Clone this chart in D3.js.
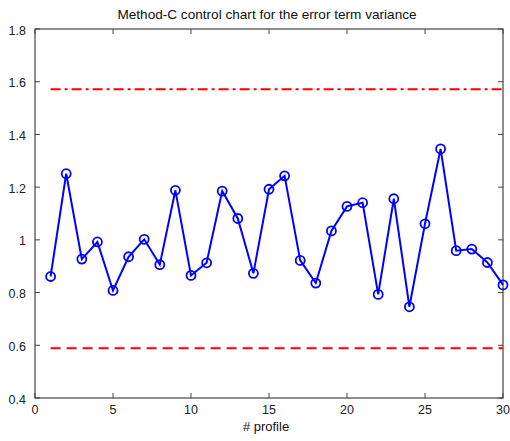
<!DOCTYPE html>
<html>
<head>
<meta charset="utf-8">
<script src="https://cdn.jsdelivr.net/npm/d3@7"></script>
<style>
  body { margin: 0; background: #fff; }
  svg { display: block; font-family: "Liberation Sans", Arial, sans-serif; }
</style>
</head>
<body>
<svg id="chart" width="510" height="441"></svg>
<script>
// Sample variance estimates per profile
const profiles = d3.range(1, 31);
const variance = [0.861, 1.251, 0.927, 0.992, 0.808, 0.936, 1.002, 0.906, 1.188, 0.865,
                  0.913, 1.185, 1.081, 0.873, 1.192, 1.243, 0.922, 0.836, 1.034, 1.127,
                  1.141, 0.793, 1.156, 0.746, 1.061, 1.345, 0.959, 0.965, 0.914, 0.829];
// Control limits
const upperLimit = 1.571;
const lowerLimit = 0.589;
const limitRange = [1, 30];
// Axis ticks
const xTicks = [0, 5, 10, 15, 20, 25, 30];
const yTicks = [0.4, 0.6, 0.8, 1.0, 1.2, 1.4, 1.6, 1.8];
const yTickLabels = ["0.4", "0.6", "0.8", "1", "1.2", "1.4", "1.6", "1.8"];

const svg = d3.select("#chart");
const m = { left: 35, right: 503, top: 29, bottom: 398 };

const x = d3.scaleLinear().domain([0, 30]).range([m.left, m.right]);
const y = d3.scaleLinear().domain([0.4, 1.8]).range([m.bottom, m.top]);

const axisColor = "#444";
const tickLen = 5;

// Frame
svg.append("rect")
  .attr("x", m.left).attr("y", m.top)
  .attr("width", m.right - m.left).attr("height", m.bottom - m.top)
  .attr("fill", "none").attr("stroke", axisColor).attr("stroke-width", 1.2);

// Inward ticks on all four sides
const tk = svg.append("g").attr("stroke", axisColor).attr("stroke-width", 1);
xTicks.forEach(t => {
  tk.append("line").attr("x1", x(t)).attr("x2", x(t)).attr("y1", m.bottom).attr("y2", m.bottom - tickLen);
  tk.append("line").attr("x1", x(t)).attr("x2", x(t)).attr("y1", m.top).attr("y2", m.top + tickLen);
});
yTicks.forEach(t => {
  tk.append("line").attr("y1", y(t)).attr("y2", y(t)).attr("x1", m.left).attr("x2", m.left + tickLen);
  tk.append("line").attr("y1", y(t)).attr("y2", y(t)).attr("x1", m.right).attr("x2", m.right - tickLen);
});

// Tick labels
svg.append("g").selectAll("text").data(xTicks).join("text")
  .attr("x", d => x(d)).attr("y", m.bottom + 16)
  .attr("text-anchor", "middle").attr("font-size", 12.5).attr("fill", "#222")
  .text(d => d);
svg.append("g").selectAll("text").data(yTicks).join("text")
  .attr("x", m.left - 9).attr("y", d => y(d) + 5.5)
  .attr("text-anchor", "end").attr("font-size", 12.5).attr("fill", "#222")
  .text((d, i) => yTickLabels[i]);

// Title and axis label
svg.append("text").attr("x", (m.left + m.right) / 2 - 2).attr("y", 19)
  .attr("text-anchor", "middle").attr("font-size", 13.6).attr("fill", "#111")
  .text("Method-C control chart for the error term variance");
svg.append("text").attr("x", (m.left + m.right) / 2 - 3).attr("y", 431)
  .attr("text-anchor", "middle").attr("font-size", 13).attr("fill", "#111")
  .text("# profile");

// Control limits
svg.append("line")
  .attr("x1", x(limitRange[0])).attr("x2", x(limitRange[1]))
  .attr("y1", y(upperLimit)).attr("y2", y(upperLimit))
  .attr("stroke", "#ff0000").attr("stroke-width", 2)
  .attr("stroke-dasharray", "10,4,3,4");
svg.append("line")
  .attr("x1", x(limitRange[0])).attr("x2", x(limitRange[1]))
  .attr("y1", y(lowerLimit)).attr("y2", y(lowerLimit))
  .attr("stroke", "#ff0000").attr("stroke-width", 2)
  .attr("stroke-dasharray", "10,6");

// Series line
const data = profiles.map((p, i) => ({ p, v: variance[i] }));
svg.append("path").datum(data)
  .attr("fill", "none").attr("stroke", "#0000ff").attr("stroke-width", 2)
  .attr("d", d3.line().x(d => x(d.p)).y(d => y(d.v)));

// Circle markers
svg.append("g").selectAll("circle").data(data).join("circle")
  .attr("cx", d => x(d.p)).attr("cy", d => y(d.v)).attr("r", 4.5)
  .attr("fill", "none").attr("stroke", "#0000ff").attr("stroke-width", 1.8);
</script>
</body>
</html>
